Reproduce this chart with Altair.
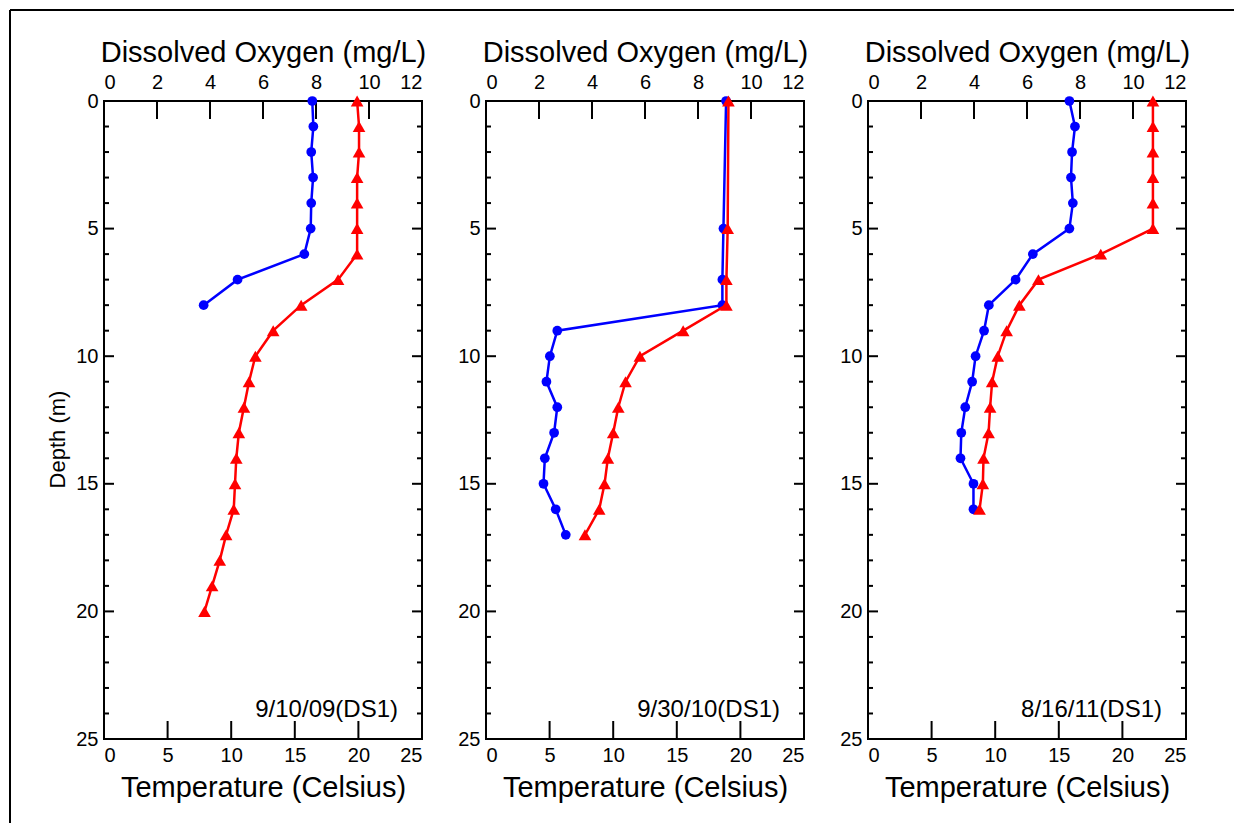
import altair as alt
import pandas as pd

FONT = "Liberation Sans"
BLUE = "#0000ff"
RED = "#ff0000"

# ---- data ----
labels = ["9/10/09(DS1)", "9/30/10(DS1)", "8/16/11(DS1)"]

do_depth_1 = [0, 1, 2, 3, 4, 5, 6, 7, 8]
do_1 = [7.86, 7.90, 7.82, 7.89, 7.82, 7.80, 7.56, 5.04, 3.76]
temp_depth_1 = [0, 1, 2, 3, 4, 5, 6, 7, 8, 9, 10, 11, 12, 13, 14, 15, 16, 17, 18, 19, 20]
temp_1 = [19.9, 20.05, 20.05, 19.9, 19.9, 19.9, 19.9, 18.4, 15.5, 13.3, 11.9, 11.4,
          11.0, 10.6, 10.4, 10.3, 10.2, 9.6, 9.1, 8.5, 7.9]

do_depth_2 = [0, 5, 7, 8, 9, 10, 11, 12, 13, 14, 15, 16, 17]
do_2 = [9.06, 8.96, 8.92, 8.92, 2.69, 2.41, 2.28, 2.69, 2.57, 2.22, 2.17, 2.63, 3.01]
temp_depth_2 = [0, 5, 7, 8, 9, 10, 11, 12, 13, 14, 15, 16, 17]
temp_2 = [19.06, 19.0, 18.9, 18.9, 15.5, 12.1, 10.97, 10.4, 10.0, 9.58, 9.32, 8.9, 7.78]

do_depth_3 = [0, 1, 2, 3, 4, 5, 6, 7, 8, 9, 10, 11, 12, 13, 14, 15, 16]
do_3 = [7.6, 7.81, 7.7, 7.66, 7.73, 7.6, 6.22, 5.57, 4.56, 4.38, 4.06, 3.93, 3.67,
        3.52, 3.49, 3.98, 3.98]
temp_depth_3 = [0, 1, 2, 3, 4, 5, 6, 7, 8, 9, 10, 11, 12, 13, 14, 15, 16]
temp_3 = [22.4, 22.4, 22.4, 22.4, 22.4, 22.4, 18.3, 13.4, 11.9, 10.9, 10.2, 9.76,
          9.6, 9.48, 9.08, 9.03, 8.77]

do_ticks = [0, 2, 4, 6, 8, 10, 12]
do_inner_ticks = [2, 4, 6, 8, 10]
temp_ticks = [0, 5, 10, 15, 20, 25]
temp_inner_ticks = [5, 10, 15, 20]
depth_ticks = [0, 5, 10, 15, 20, 25]
depth_major = [5, 10, 15, 20]
depth_minor = [1, 2, 3, 4, 6, 7, 8, 9, 11, 12, 13, 14, 16, 17, 18, 19, 21, 22, 23, 24]

W, H = 318, 638

do_scale = alt.Scale(domain=[0, 12], nice=False, zero=False)
t_scale = alt.Scale(domain=[0, 25], nice=False, zero=False)
y_scale = alt.Scale(domain=[0, 25], reverse=True, nice=False, zero=False)


def panel(label, dd, dv, td, tv, first):
    do_df = pd.DataFrame({"depth": dd, "do": dv})
    t_df = pd.DataFrame({"depth": td, "temp": tv})

    y_kw = dict(orient="left", values=depth_ticks, ticks=False, domain=False,
                grid=False, labelPadding=6, labelFontSize=20, labelFont=FONT,
                labelColor="black")
    if first:
        y_axis = alt.Axis(title="Depth (m)", titleFontSize=22, titleFont=FONT,
                          titleColor="black", titleFontWeight="normal",
                          titleAngle=270, titleAlign="center", titleBaseline="bottom",
                          titleX=-35, titleY=338, **y_kw)
    else:
        y_axis = alt.Axis(title=None, **y_kw)
    do_axis = alt.Axis(orient="top", values=do_ticks, ticks=False, domain=False,
                       grid=False, labelPadding=9, labelFontSize=20, labelFont=FONT,
                       labelColor="black", title="Dissolved Oxygen (mg/L)",
                       titleFontSize=29, titlePadding=5, titleFont=FONT,
                       titleColor="black", titleFontWeight="normal")
    t_axis = alt.Axis(orient="bottom", values=temp_ticks, ticks=False, domain=False,
                      grid=False, labelPadding=6, labelFontSize=20, labelFont=FONT,
                      labelColor="black", title="Temperature (Celsius)",
                      titleFontSize=29, titlePadding=8, titleFont=FONT,
                      titleColor="black", titleFontWeight="normal")

    layers = []
    if first:
        one = pd.DataFrame({"k": [0]})
        layers.append(alt.Chart(one).mark_rule(color="black", strokeWidth=2).encode(
            x=alt.value(-94), y=alt.value(-91), y2=alt.value(722)))
        layers.append(alt.Chart(one).mark_rule(color="black", strokeWidth=2).encode(
            x=alt.value(-94), x2=alt.value(1130), y=alt.value(-91)))

    layers.append(alt.Chart(do_df).mark_line(color=BLUE, strokeWidth=2.5).encode(
        x=alt.X("do:Q", scale=do_scale, axis=do_axis),
        y=alt.Y("depth:Q", scale=y_scale, axis=y_axis),
        order=alt.Order("depth:Q"),
    ))

    # depth ticks (inward, on both sides) drawn as short rules
    minor_df = pd.DataFrame({"d": depth_minor})
    major_df = pd.DataFrame({"d": depth_major})
    yt = alt.Y("d:Q", scale=y_scale, axis=None)
    for df, ln in [(minor_df, 5), (major_df, 10)]:
        layers.append(alt.Chart(df).mark_rule(color="black", strokeWidth=2).encode(
            y=yt, x=alt.value(0), x2=alt.value(ln)))
        layers.append(alt.Chart(df).mark_rule(color="black", strokeWidth=2).encode(
            y=yt, x=alt.value(W - ln), x2=alt.value(W)))

    layers.append(alt.Chart(pd.DataFrame({"v": do_inner_ticks})).mark_rule(
        color="black", strokeWidth=2).encode(
        x=alt.X("v:Q", scale=do_scale, axis=None), y=alt.value(0), y2=alt.value(18)))
    layers.append(alt.Chart(pd.DataFrame({"v": temp_inner_ticks})).mark_rule(
        color="black", strokeWidth=2).encode(
        x=alt.X("v:Q", scale=t_scale, axis=None), y=alt.value(H - 18), y2=alt.value(H)))

    layers.append(alt.Chart(pd.DataFrame({"label": [label]})).mark_text(
        align="right", baseline="alphabetic", fontSize=24, font=FONT, color="black"
    ).encode(text="label:N", x=alt.value(W - 24), y=alt.value(H - 22)))

    layers.append(alt.Chart(do_df).mark_point(shape="circle", filled=True, color=BLUE,
                                              size=95, opacity=1).encode(
        x=alt.X("do:Q", scale=do_scale, axis=None),
        y=alt.Y("depth:Q", scale=y_scale, axis=None),
    ))
    layers.append(alt.Chart(t_df).mark_line(color=RED, strokeWidth=2.5).encode(
        x=alt.X("temp:Q", scale=t_scale, axis=t_axis),
        y=alt.Y("depth:Q", scale=y_scale, axis=None),
        order=alt.Order("depth:Q"),
    ))
    layers.append(alt.Chart(t_df).mark_point(shape="triangle-up", filled=True,
                                             color=RED, size=160, opacity=1).encode(
        x=alt.X("temp:Q", scale=t_scale, axis=None),
        y=alt.Y("depth:Q", scale=y_scale, axis=None),
    ))

    return alt.layer(*layers).resolve_scale(x="independent", y="independent").properties(
        width=W, height=H)


p1 = panel(labels[0], do_depth_1, do_1, temp_depth_1, temp_1, True)
p2 = panel(labels[1], do_depth_2, do_2, temp_depth_2, temp_2, False)
p3 = panel(labels[2], do_depth_3, do_3, temp_depth_3, temp_3, False)

chart = alt.hconcat(p1, p2, p3, spacing=64, bounds="flush").properties(
    padding=0, background="white"
).configure_view(stroke="black", strokeWidth=2)

chart.save("out.html", embed_options={"renderer": "svg", "actions": False})
